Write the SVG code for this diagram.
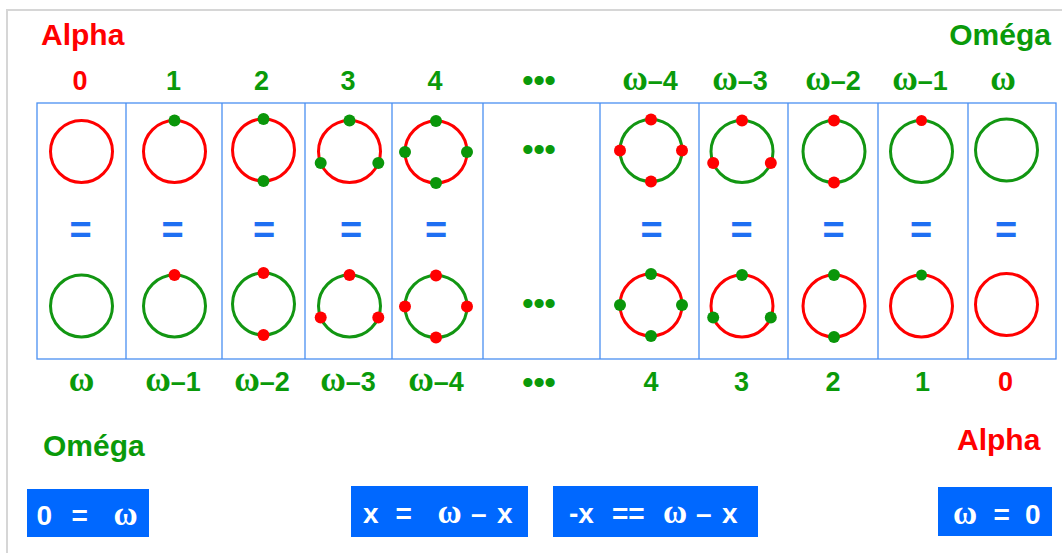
<svg xmlns="http://www.w3.org/2000/svg" width="1062" height="553" viewBox="0 0 1062 553">
<style>
.lbl{font-family:"Liberation Sans",Arial,sans-serif;font-weight:bold;font-size:27px;text-anchor:middle}
.big{font-family:"Liberation Sans",Arial,sans-serif;font-weight:bold;font-size:30px}
.g{fill:#0a9a0a}
.r{fill:#ff0000}
.om{font-family:"Liberation Serif","Times New Roman",serif;font-weight:bold;font-size:35px}
.ring{fill:none;stroke-width:3}
.rr{stroke:#ff0000}
.rg{stroke:#129612}
.dr{fill:#ff0000}
.dg{fill:#0a960a}
.eq{font-family:"Liberation Sans",Arial,sans-serif;font-weight:bold;font-size:38px;fill:#1f6ff2;text-anchor:middle}
.cell{fill:none;stroke:#4a90f2;stroke-width:1.3}
.box{fill:#0068ff}
.bt{font-family:"Liberation Sans",Arial,sans-serif;font-weight:bold;font-size:28px;fill:#ffffff}
.bom{font-family:"Liberation Serif","Times New Roman",serif;font-weight:bold;font-size:33px}
.dots{font-family:"Liberation Sans",Arial,sans-serif;font-weight:bold;font-size:32px;fill:#0a9a0a;text-anchor:middle}
</style>
<rect width="1062" height="553" fill="#ffffff"/>
<path d="M7,553 V10 H1062" fill="none" stroke="#d6d6d6" stroke-width="2"/>

<g id="table">
<rect class="cell" x="37" y="103" width="1019" height="256"/>
<path class="cell" d="M126,103V359M222,103V359M305,103V359M392,103V359M483,103V359M600,103V359M699,103V359M788,103V359M878,103V359M968,103V359"/>
</g>

<g id="titles">
<text class="big r" x="41" y="45">Alpha</text>
<text class="big g" x="1051" y="45" text-anchor="end">Oméga</text>
<text class="big g" x="43" y="456">Oméga</text>
<text class="big r" x="957" y="450">Alpha</text>
</g>

<g id="top-labels">
<text class="lbl r" x="80" y="90">0</text>
<text class="lbl g" x="173.5" y="90">1</text>
<text class="lbl g" x="261.5" y="90">2</text>
<text class="lbl g" x="348" y="90">3</text>
<text class="lbl g" x="435" y="90">4</text>
<text class="dots" x="539" y="91">•••</text>
<text class="lbl g" x="650" y="90"><tspan class="om">ω</tspan>–4</text>
<text class="lbl g" x="740" y="90"><tspan class="om">ω</tspan>–3</text>
<text class="lbl g" x="833" y="90"><tspan class="om">ω</tspan>–2</text>
<text class="lbl g" x="920" y="90"><tspan class="om">ω</tspan>–1</text>
<text class="lbl g" x="1003" y="90"><tspan class="om">ω</tspan></text>
</g>

<g id="bottom-labels">
<text class="lbl g" x="81.5" y="391"><tspan class="om">ω</tspan></text>
<text class="lbl g" x="173" y="391"><tspan class="om">ω</tspan>–1</text>
<text class="lbl g" x="262" y="391"><tspan class="om">ω</tspan>–2</text>
<text class="lbl g" x="348" y="391"><tspan class="om">ω</tspan>–3</text>
<text class="lbl g" x="436" y="391"><tspan class="om">ω</tspan>–4</text>
<text class="dots" x="539" y="393">•••</text>
<text class="lbl g" x="651" y="391">4</text>
<text class="lbl g" x="741.5" y="391">3</text>
<text class="lbl g" x="833" y="391">2</text>
<text class="lbl g" x="922.5" y="391">1</text>
<text class="lbl r" x="1005.5" y="391">0</text>
</g>

<g id="col0">
<circle class="ring rr" cx="81.5" cy="151.5" r="31"/>
<text class="eq" x="80.5" y="243">=</text>
<circle class="ring rg" cx="81.5" cy="306" r="31"/>
</g>
<g id="col1">
<circle class="ring rr" cx="174.5" cy="151.5" r="31"/>
<circle class="dg" cx="174.5" cy="120.5" r="6"/>
<text class="eq" x="172.5" y="243">=</text>
<circle class="ring rg" cx="174.5" cy="306" r="31"/>
<circle class="dr" cx="174.5" cy="275" r="6"/>
</g>
<g id="col2">
<circle class="ring rr" cx="263.5" cy="150" r="31"/>
<circle class="dg" cx="263.5" cy="119" r="6"/>
<circle class="dg" cx="263.5" cy="181" r="6"/>
<text class="eq" x="264" y="243">=</text>
<circle class="ring rg" cx="263.5" cy="304" r="31"/>
<circle class="dr" cx="263.5" cy="273" r="6"/>
<circle class="dr" cx="263.5" cy="335" r="6"/>
</g>
<g id="col3">
<circle class="ring rr" cx="349.5" cy="151.5" r="31"/>
<circle class="dg" cx="349.5" cy="120.5" r="6"/>
<circle class="dg" cx="320.7" cy="163" r="6"/>
<circle class="dg" cx="378.3" cy="163" r="6"/>
<text class="eq" x="351" y="243">=</text>
<circle class="ring rg" cx="349.5" cy="306" r="31"/>
<circle class="dr" cx="349.5" cy="275" r="6"/>
<circle class="dr" cx="320.7" cy="317.5" r="6"/>
<circle class="dr" cx="378.3" cy="317.5" r="6"/>
</g>
<g id="col4">
<circle class="ring rr" cx="436" cy="152" r="31"/>
<circle class="dg" cx="436" cy="121" r="6"/>
<circle class="dg" cx="436" cy="183" r="6"/>
<circle class="dg" cx="405" cy="152" r="6"/>
<circle class="dg" cx="467" cy="152" r="6"/>
<text class="eq" x="436" y="243">=</text>
<circle class="ring rg" cx="436" cy="306.5" r="31"/>
<circle class="dr" cx="436" cy="275.5" r="6"/>
<circle class="dr" cx="436" cy="337.5" r="6"/>
<circle class="dr" cx="405" cy="306.5" r="6"/>
<circle class="dr" cx="467" cy="306.5" r="6"/>
</g>
<g id="col5">
<text class="dots" x="539" y="160">•••</text>
<text class="dots" x="539" y="314">•••</text>
</g>
<g id="col6">
<circle class="ring rg" cx="651" cy="150.5" r="31"/>
<circle class="dr" cx="651" cy="119.5" r="6"/>
<circle class="dr" cx="651" cy="181.5" r="6"/>
<circle class="dr" cx="620" cy="150.5" r="6"/>
<circle class="dr" cx="682" cy="150.5" r="6"/>
<text class="eq" x="651.5" y="243">=</text>
<circle class="ring rr" cx="651" cy="305" r="31"/>
<circle class="dg" cx="651" cy="274" r="6"/>
<circle class="dg" cx="651" cy="336" r="6"/>
<circle class="dg" cx="620" cy="305" r="6"/>
<circle class="dg" cx="682" cy="305" r="6"/>
</g>
<g id="col7">
<circle class="ring rg" cx="742" cy="151.5" r="31"/>
<circle class="dr" cx="742" cy="120.5" r="6"/>
<circle class="dr" cx="713.2" cy="163" r="6"/>
<circle class="dr" cx="770.8" cy="163" r="6"/>
<text class="eq" x="741.5" y="243">=</text>
<circle class="ring rr" cx="742" cy="306" r="31"/>
<circle class="dg" cx="742" cy="275" r="6"/>
<circle class="dg" cx="713.2" cy="317.5" r="6"/>
<circle class="dg" cx="770.8" cy="317.5" r="6"/>
</g>
<g id="col8">
<circle class="ring rg" cx="834" cy="151.5" r="31"/>
<circle class="dr" cx="834" cy="120.5" r="6"/>
<circle class="dr" cx="834" cy="182.5" r="6"/>
<text class="eq" x="833.5" y="243">=</text>
<circle class="ring rr" cx="834" cy="306" r="31"/>
<circle class="dg" cx="834" cy="275" r="6"/>
<circle class="dg" cx="834" cy="337" r="6"/>
</g>
<g id="col9">
<circle class="ring rg" cx="921.5" cy="151.5" r="31"/>
<circle class="dr" cx="921.5" cy="120.5" r="5.5"/>
<text class="eq" x="921" y="243">=</text>
<circle class="ring rr" cx="921.5" cy="306" r="31"/>
<circle class="dg" cx="921.5" cy="275" r="5.5"/>
</g>
<g id="col10">
<circle class="ring rg" cx="1006.5" cy="150" r="31"/>
<text class="eq" x="1006" y="243">=</text>
<circle class="ring rr" cx="1006.5" cy="304.5" r="31"/>
</g>

<g id="box1">
<rect class="box" x="27" y="489" width="122" height="48"/>
<text class="bt" y="525"><tspan x="36.5">0</tspan><tspan x="71.5">=</tspan><tspan class="bom" x="113.5">ω</tspan></text>
</g>
<g id="box2">
<rect class="box" x="351" y="486" width="177" height="51"/>
<text class="bt" y="523"><tspan x="363">x</tspan><tspan x="395.5">=</tspan><tspan class="bom" x="437.5">ω</tspan><tspan x="471">–</tspan><tspan x="497">x</tspan></text>
</g>
<g id="box3">
<rect class="box" x="553" y="486" width="205" height="51"/>
<text class="bt" y="523"><tspan x="569">-x</tspan><tspan x="612">==</tspan><tspan class="bom" x="663">ω</tspan><tspan x="696">–</tspan><tspan x="722">x</tspan></text>
</g>
<g id="box4">
<rect class="box" x="938" y="487" width="114" height="49"/>
<text class="bt" y="524"><tspan class="bom" x="953">ω</tspan><tspan x="993.5">=</tspan><tspan x="1025">0</tspan></text>
</g>
</svg>
